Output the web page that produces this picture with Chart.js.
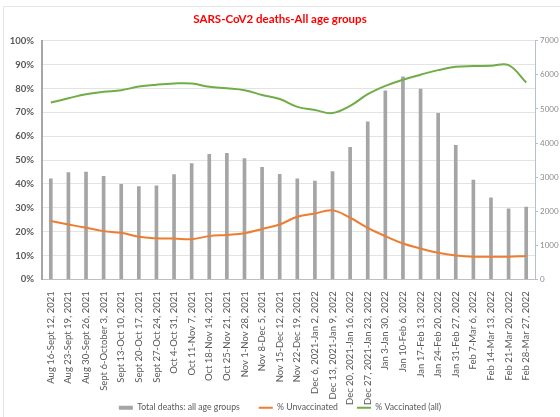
<!DOCTYPE html>
<html>
<head>
<meta charset="utf-8">
<script src="https://cdn.jsdelivr.net/npm/chart.js@4"></script>
<style>
  html, body { margin: 0; padding: 0; background: #fff; }
  #wrap { width: 560px; height: 417px; }
</style>
</head>
<body>
<div id="wrap"><canvas id="deathsChart" width="560" height="417"></canvas></div>
<script>
// === Data ===
const weeks = [
  "Aug 16-Sept 12, 2021", "Aug 23-Sept 19, 2021", "Aug 30-Sept 26, 2021", "Sept 6-October 3, 2021",
  "Sept 13-Oct 10, 2021", "Sept 20-Oct 17, 2021", "Sept 27-Oct 24, 2021", "Oct 4-Oct 31, 2021",
  "Oct 11-Nov 7, 2021", "Oct 18-Nov 14, 2021", "Oct 25-Nov 21, 2021", "Nov 1-Nov 28, 2021",
  "Nov 8-Dec 5, 2021", "Nov 15-Dec 12, 2021", "Nov 22-Dec 19, 2021", "Dec 6, 2021-Jan 2, 2022",
  "Dec 13, 2021-Jan 9, 2022", "Dec 20, 2021-Jan 16, 2022", "Dec 27, 2021-Jan 23, 2022", "Jan 3-Jan 30, 2022",
  "Jan 10-Feb 6, 2022", "Jan 17-Feb 13, 2022", "Jan 24-Feb 20, 2022", "Jan 31-Feb 27, 2022",
  "Feb 7-Mar 6, 2022", "Feb 14-Mar 13, 2022", "Feb 21-Mar 20, 2022", "Feb 28-Mar 27, 2022"
];

const totalDeaths = [
  2950, 3130, 3150, 3020, 2785, 2725, 2745, 3070, 3400, 3665, 3700, 3540, 3285, 3080,
  2950, 2880, 3160, 3870, 4620, 5530, 5940, 5580, 4870, 3930, 2910, 2390, 2070, 2120
];

const pctUnvaccinated = [
  24.4, 23.0, 21.6, 20.2, 19.5, 17.8, 17.2, 17.1, 16.8, 18.1, 18.6, 19.3, 21.1, 23.0,
  26.2, 27.6, 28.9, 25.8, 21.6, 18.1, 15.0, 12.9, 11.1, 10.0, 9.5, 9.5, 9.5, 9.8
];

const pctVaccinated = [
  74.1, 75.9, 77.6, 78.6, 79.3, 80.8, 81.6, 82.1, 82.1, 80.7, 80.1, 79.3, 77.3, 75.6,
  72.3, 71.0, 69.7, 72.7, 77.6, 81.1, 83.7, 85.8, 87.7, 89.1, 89.4, 89.5, 89.8, 82.5
];

const FONT = "Lato, 'Open Sans', sans-serif";
const TEXT = "#595959";

// faint outer frame like the Excel chart area
const frame = {
  id: 'frame',
  beforeDraw(chart) {
    const ctx = chart.ctx;
    ctx.save();
    ctx.fillStyle = '#fff';
    ctx.fillRect(0, 0, chart.width, chart.height);
    ctx.strokeStyle = '#e6e6e6';
    ctx.lineWidth = 1;
    ctx.beginPath();
    ctx.moveTo(3.5, chart.height);
    ctx.lineTo(3.5, 6.5);
    ctx.lineTo(chart.width, 6.5);
    ctx.stroke();
    ctx.restore();
  }
};

new Chart(document.getElementById('deathsChart'), {
  type: 'bar',
  data: {
    labels: weeks,
    datasets: [
      {
        label: 'Total deaths: all age groups',
        data: totalDeaths,
        yAxisID: 'y1',
        backgroundColor: '#a5a5a5',
        barThickness: 3,
        order: 2,
        pointStyle: 'rect'
      },
      {
        type: 'line',
        label: '% Unvaccinated',
        data: pctUnvaccinated,
        yAxisID: 'y',
        borderColor: '#ed7d31',
        backgroundColor: '#ed7d31',
        borderWidth: 2,
        pointRadius: 0,
        tension: 0.4,
        order: 1,
        pointStyle: 'line'
      },
      {
        type: 'line',
        label: '% Vaccinated (all)',
        data: pctVaccinated,
        yAxisID: 'y',
        borderColor: '#70ad47',
        backgroundColor: '#70ad47',
        borderWidth: 2,
        pointRadius: 0,
        tension: 0.4,
        order: 1,
        pointStyle: 'line'
      }
    ]
  },
  options: {
    responsive: false,
    animation: false,
    layout: { padding: { top: 6, left: 0, right: 0, bottom: -5 } },
    plugins: {
      title: {
        display: true,
        text: 'SARS-CoV2 deaths-All age groups',
        color: '#ff0000',
        font: { family: FONT, size: 11.5, weight: 'bold' },
        padding: { top: 6, bottom: 15 }
      },
      legend: {
        position: 'bottom',
        labels: {
          color: TEXT,
          font: { family: FONT, size: 8.7 },
          usePointStyle: true,
          pointStyleWidth: 14,
          boxHeight: 4,
          padding: 19,
          sort: (a, b) => a.datasetIndex - b.datasetIndex
        }
      },
      tooltip: { enabled: false }
    },
    scales: {
      x: {
        offset: true,
        grid: { display: false },
        border: { color: '#bfbfbf' },
        ticks: {
          color: TEXT,
          font: { family: FONT, size: 9.5 },
          minRotation: 90,
          maxRotation: 90,
          autoSkip: false,
          padding: 4
        },
        afterFit(scale) {
          scale.height = 105;
          // long labels run into the legend padding, so don't clip them to the axis box
          scale._computeLabelArea = () => null;
        }
      },
      y: {
        position: 'left',
        min: 0,
        max: 100,
        ticks: {
          stepSize: 10,
          color: TEXT,
          font: { family: FONT, size: 9.5, weight: 'bold' },
          callback: v => v + '%',
          padding: 8
        },
        grid: { color: '#e3e3e3', drawTicks: false },
        border: { color: '#a6a6a6', width: 2 },
        afterFit(scale) { scale.width = 42; }
      },
      y1: {
        position: 'right',
        min: 0,
        max: 7000,
        ticks: {
          stepSize: 1000,
          color: '#8c8c8c',
          font: { family: FONT, size: 8 },
          padding: 2,
          callback: v => String(v)
        },
        grid: { drawOnChartArea: false, tickLength: 3, color: '#b4c0d0' },
        border: { color: '#b4c0d0' },
        afterFit(scale) { scale.width = 25; }
      }
    }
  },
  plugins: [frame]
});
</script>
</body>
</html>
